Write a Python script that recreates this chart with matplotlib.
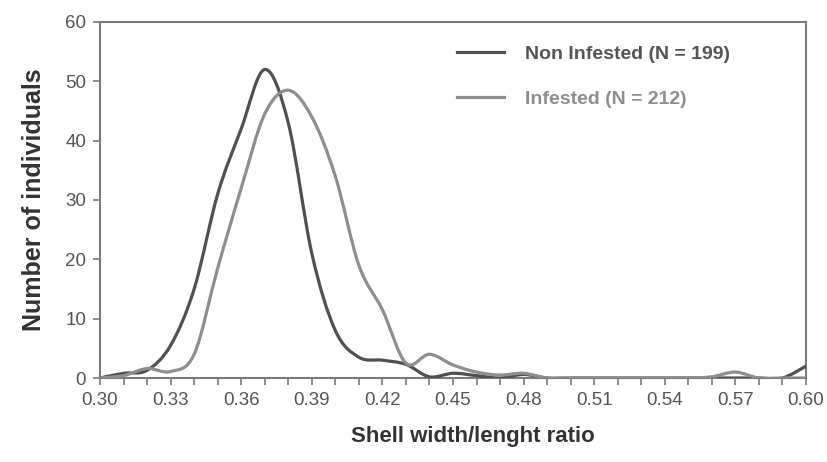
import matplotlib
matplotlib.use("Agg")
import matplotlib.pyplot as plt
from matplotlib.path import Path
from matplotlib.patches import PathPatch
from matplotlib.lines import Line2D
import numpy as np

plt.rcParams['font.family'] = ['Liberation Sans', 'DejaVu Sans']

# Shell width/length ratio classes (0.30 .. 0.60, step 0.01)
ratio = [0.30, 0.31, 0.32, 0.33, 0.34, 0.35, 0.36, 0.37, 0.38, 0.39, 0.40,
         0.41, 0.42, 0.43, 0.44, 0.45, 0.46, 0.47, 0.48, 0.49, 0.50,
         0.51, 0.52, 0.53, 0.54, 0.55, 0.56, 0.57, 0.58, 0.59, 0.60]

non_infested = [0, 0.8, 1.3, 5.5, 15, 31, 42, 52, 43, 21, 8,
                3.5, 3, 2.3, 0.2, 0.8, 0.4, 0, 0.6, 0, 0,
                0, 0, 0, 0, 0, 0, 0, 0, 0, 2]

infested = [0, 0.4, 1.6, 1.1, 4, 18.5, 32, 44.5, 48.5, 44, 34,
            19, 11.5, 2.5, 4, 2.2, 1, 0.5, 0.8, 0, 0,
            0, 0, 0, 0, 0, 0.2, 1, 0, 0, 0]

series_labels = ["Non Infested (N = 199)", "Infested (N = 212)"]
series_colors = ["#505050", "#8e8e8e"]

xtick_values = [0.30, 0.33, 0.36, 0.39, 0.42, 0.45, 0.48, 0.51, 0.54, 0.57, 0.60]
ytick_values = [0, 10, 20, 30, 40, 50, 60]


def smooth_path(x, y):
    """Excel-like smoothed line: cubic Bezier segments through every point."""
    x = np.asarray(x, float)
    y = np.asarray(y, float)
    n = len(x)
    verts = [(x[0], y[0])]
    codes = [Path.MOVETO]
    for i in range(n - 1):
        p0 = np.array([x[max(i - 1, 0)], y[max(i - 1, 0)]])
        p1 = np.array([x[i], y[i]])
        p2 = np.array([x[i + 1], y[i + 1]])
        p3 = np.array([x[min(i + 2, n - 1)], y[min(i + 2, n - 1)]])
        c1 = p1 + (p2 - p0) / 6.0
        c2 = p2 - (p3 - p1) / 6.0
        verts += [tuple(c1), tuple(c2), tuple(p2)]
        codes += [Path.CURVE4] * 3
    return Path(verts, codes)


fig = plt.figure(figsize=(8.28, 4.62), dpi=100)
ax = fig.add_axes([0.1208, 0.1818, 0.8526, 0.7706])

# Draw both curves
for values, color in zip([non_infested, infested], series_colors):
    patch = PathPatch(smooth_path(ratio, values), fill=False,
                      edgecolor=color, linewidth=2.3, capstyle='round',
                      joinstyle='round', zorder=3)
    ax.add_patch(patch)

ax.set_xlim(0.30, 0.60)
ax.set_ylim(0, 60)

ax.set_xticks(xtick_values)
ax.set_xticklabels([f"{v:.2f}" for v in xtick_values])
ax.set_xticks(ratio, minor=True)
ax.set_yticks(ytick_values)

for s in ax.spines.values():
    s.set_color("#7a7a7a")
    s.set_linewidth(1.5)

ax.tick_params(axis='both', which='both', direction='out', length=5,
               width=1.2, color="#7a7a7a", labelsize=13.5,
               labelcolor="#555555", pad=5)

ax.set_xlabel("Shell width/lenght ratio", fontsize=16, fontweight='bold',
              color="#333333", labelpad=14)
ax.xaxis.set_label_coords(0.528, -0.135, transform=ax.transAxes)
ax.set_ylabel("Number of individuals", fontsize=18, fontweight='bold',
              color="#333333", labelpad=14)

# Legend
handles = [Line2D([], [], color=c, linewidth=2.3) for c in series_colors]
leg = ax.legend(handles, series_labels, loc='upper left',
                bbox_to_anchor=(0.506, 0.935), frameon=False,
                borderpad=0, borderaxespad=0,
                handlelength=2.4, handletextpad=1.1, labelspacing=1.4,
                prop={'size': 14, 'weight': 'bold'})
for text, c in zip(leg.get_texts(), ["#555555", "#8e8e8e"]):
    text.set_color(c)

fig.savefig("out.png", dpi=100)
